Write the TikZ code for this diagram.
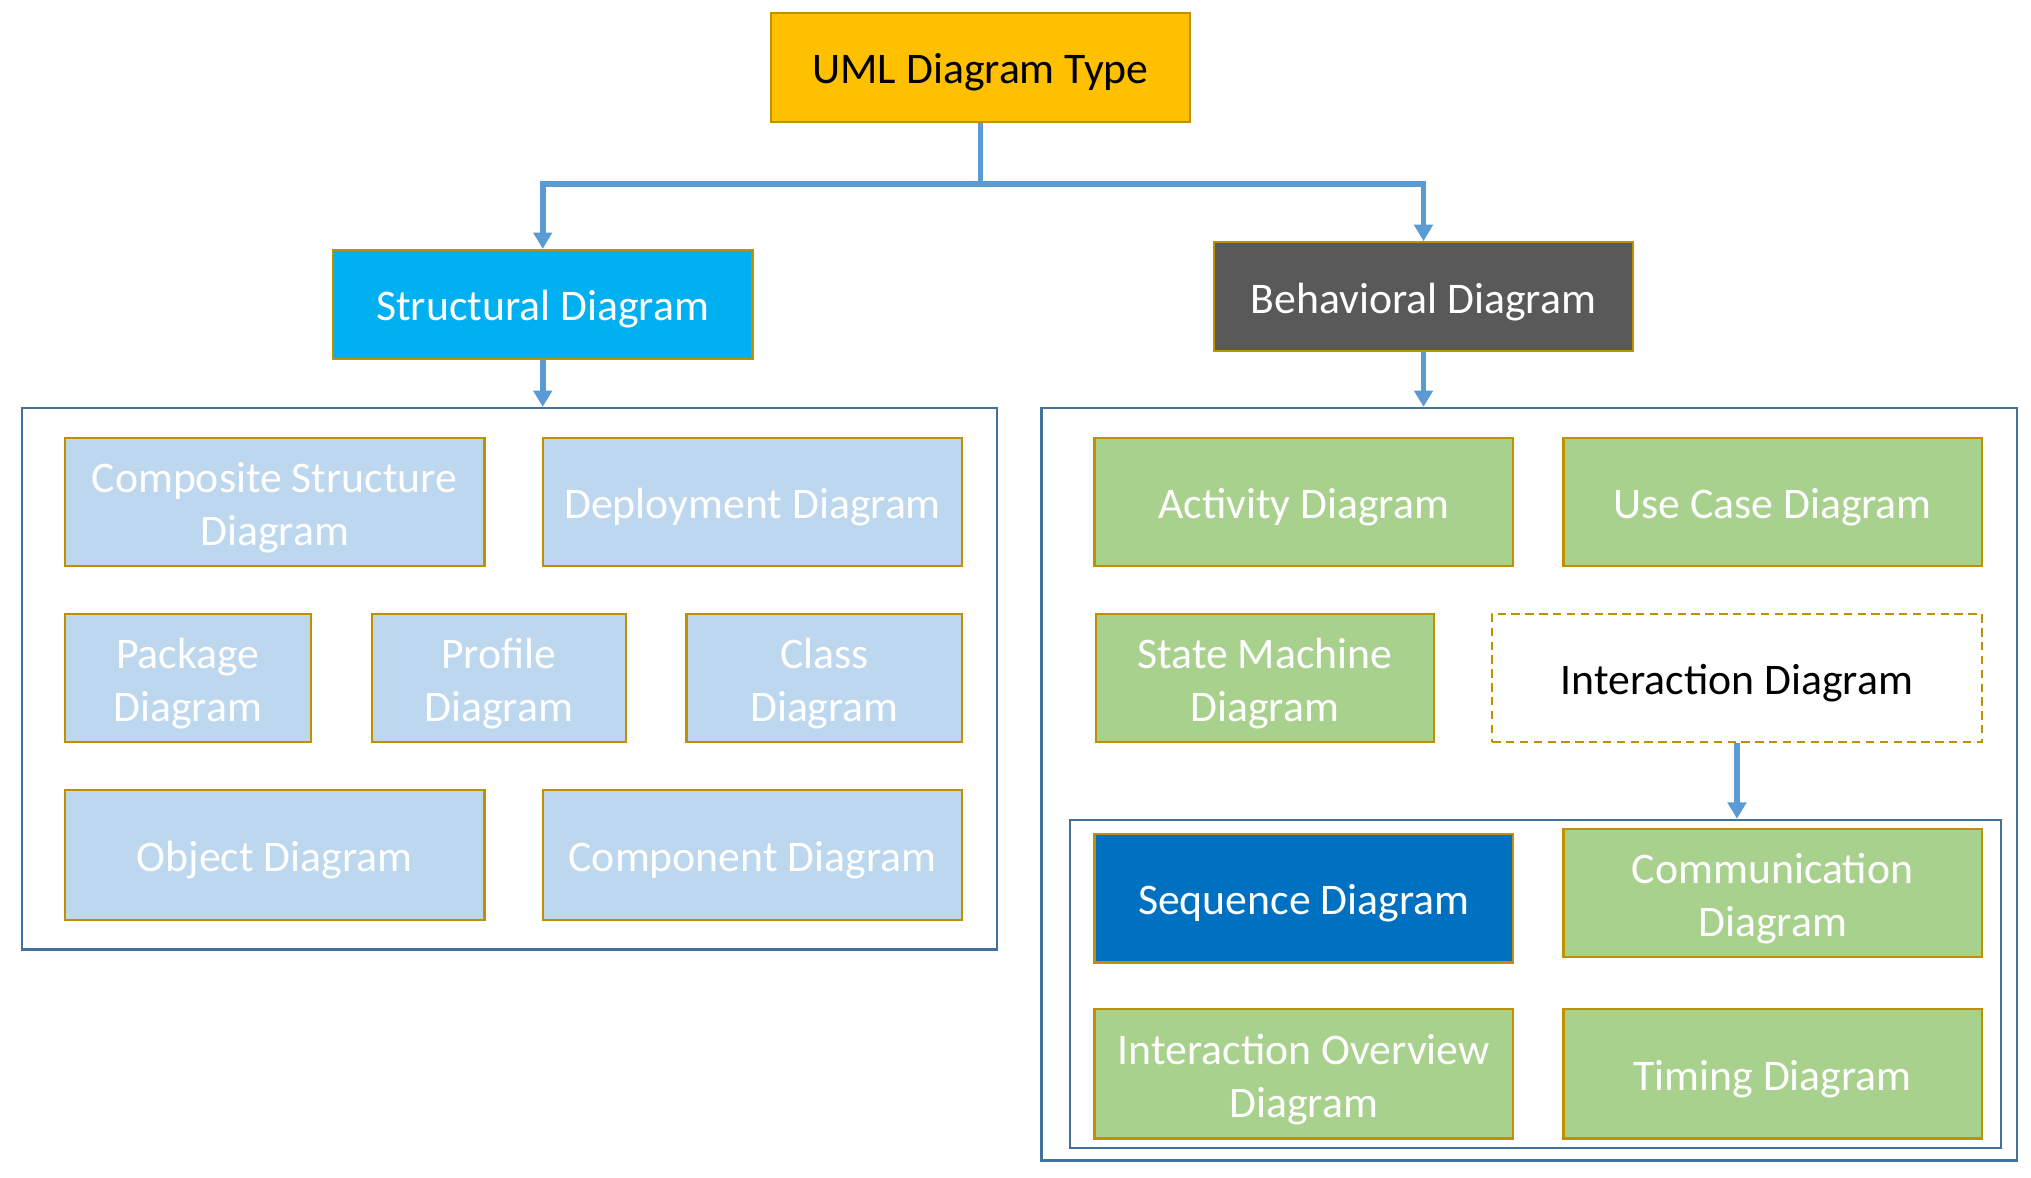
\documentclass[tikz,border=0pt]{standalone}
\usepackage{fontspec}
\setmainfont{Carlito}
\usepackage{xcolor}
\usepackage{tikz}
\usetikzlibrary{positioning,arrows.meta,calc}
\definecolor{goldfill}{RGB}{255,192,0}
\definecolor{goldline}{RGB}{191,144,0}
\definecolor{cyanfill}{RGB}{0,176,240}
\definecolor{darkgrey}{RGB}{89,89,89}
\definecolor{paleblue}{RGB}{189,215,238}
\definecolor{leafgreen}{RGB}{169,209,142}
\definecolor{seqblue}{RGB}{0,112,192}
\definecolor{arrowblue}{RGB}{91,155,213}
\definecolor{frameblue}{RGB}{65,113,156}
\def\pxu{0.0125cm}

\begin{document}
\begin{tikzpicture}[x=0.0125cm, y=-0.0125cm,
  kind/.style={draw=goldline, line width=0.6pt, inner sep=0pt, align=center,
    font=\fontsize{12}{14.5}\selectfont, text=white,
    execute at begin node={\rule{0pt}{12pt}},
    execute at end node={\rule[-3pt]{0pt}{0pt}}},
  twoline/.style={execute at begin node={\rule{0pt}{26.8pt}}},
  sz/.style 2 args={minimum width=#1*\pxu, minimum height=#2*\pxu},
  frame/.style={draw=frameblue, line width=0.6pt, inner sep=0pt},
  arr/.style={draw=arrowblue, line width=1.6pt,
    -{Triangle[length=4.5pt,width=5pt]}},
]
  \useasboundingbox (0,0) rectangle (1568,909);

  % root
  \node[kind, sz={324}{84}, fill=goldfill, text=black] (uml) at (757,52) {UML Diagram Type};

  % two families
  \node[kind, sz={324}{84}, fill=cyanfill] (struct) at (419,235) {Structural Diagram};
  \node[kind, sz={324}{84}, fill=darkgrey] (behav) at (1099,229) {Behavioral Diagram};

  \coordinate (split) at (757,142);
  \draw[arr] (uml.south) -- (split) -| (struct.north);
  \draw[arr] (split) -| (behav.north);

  % frames
  \node[frame, sz={753}{418}] (leftbox) at (393.5,524) {};
  \node[frame, sz={753}{581}] (rightbox) at (1180.5,605.5) {};
  \node[frame, sz={719}{253}] (innerbox) at (1185.5,759.5) {};

  \draw[arr] (struct.south) -- (struct.south |- leftbox.north);
  \draw[arr] (behav.south) -- (behav.south |- rightbox.north);

  % structural kinds
  \node[kind, twoline, sz={324}{99}, fill=paleblue] (composite) at (212,387.5) {Composite Structure\\Diagram};
  \node[kind, sz={324}{99}, fill=paleblue] (deploy) at (581,387.5) {Deployment Diagram};
  \node[kind, twoline, sz={190}{99}, fill=paleblue] (package) at (145,523.5) {Package\\Diagram};
  \node[kind, twoline, sz={196}{99}, fill=paleblue] (profile) at (385,523.5) {Profile\\Diagram};
  \node[kind, twoline, sz={213}{99}, fill=paleblue] (class) at (636.5,523.5) {Class\\Diagram};
  \node[kind, sz={324}{100}, fill=paleblue] (object) at (212,660) {Object Diagram};
  \node[kind, sz={324}{100}, fill=paleblue] (component) at (581,660) {Component Diagram};

  % behavioral kinds
  \node[kind, sz={323}{99}, fill=leafgreen] (activity) at (1006.5,387.5) {Activity Diagram};
  \node[kind, sz={323}{99}, fill=leafgreen] (usecase) at (1368.5,387.5) {Use Case Diagram};
  \node[kind, twoline, sz={261}{99}, fill=leafgreen] (statemach) at (976.5,523.5) {State Machine\\Diagram};
  \node[kind, sz={378}{99}, fill=white, text=black,
    dash pattern=on 2.3pt off 1.5pt] (interact) at (1341,523.5) {Interaction Diagram};

  \draw[arr] (interact.south) -- (interact.south |- innerbox.north);

  % interaction kinds
  \node[kind, sz={323}{99}, fill=seqblue] (sequence) at (1006.5,693.5) {Sequence Diagram};
  \node[kind, twoline, sz={323}{99}, fill=leafgreen] (commun) at (1368.5,689.5) {Communication\\Diagram};
  \node[kind, twoline, sz={323}{100}, fill=leafgreen] (overview) at (1006.5,829) {Interaction Overview\\Diagram};
  \node[kind, sz={323}{100}, fill=leafgreen] (timing) at (1368.5,829) {Timing Diagram};
\end{tikzpicture}
\end{document}
